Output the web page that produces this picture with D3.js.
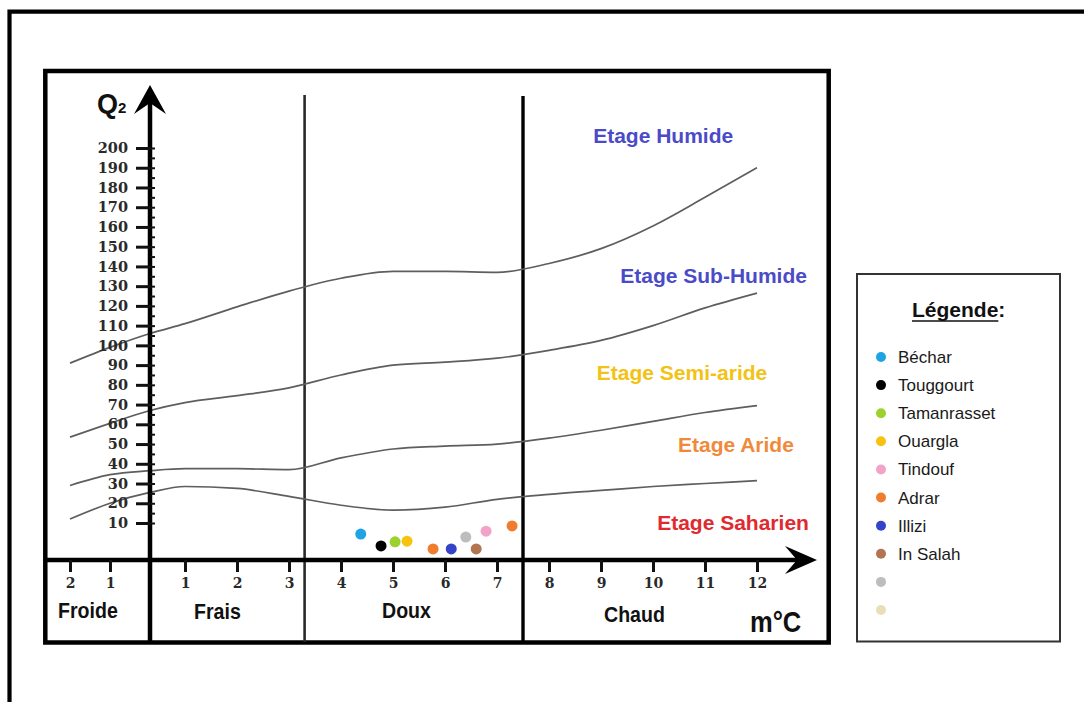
<!DOCTYPE html>
<html>
<head>
<meta charset="utf-8">
<script src="https://cdn.jsdelivr.net/npm/d3@7"></script>
<style>
  html, body { margin: 0; padding: 0; background: #fff; }
  svg { display: block; }
</style>
</head>
<body>
<svg id="chart" width="1084" height="702"></svg>
<script>
// Emberger climagram: Q2 pluviothermic quotient against m (°C, mean minimum of the coldest month)

const mTicks = [-2, -1, 1, 2, 3, 4, 5, 6, 7, 8, 9, 10, 11, 12];
const q2Ticks = [10, 20, 30, 40, 50, 60, 70, 80, 90, 100, 110, 120, 130, 140, 150, 160, 170, 180, 190, 200];
const q2MinorTicks = d3.range(10, 201, 5);

// limits between bioclimatic stages, sampled at each m value
const curveM = [-2, -1, 0, 1, 2, 3, 4, 5, 6, 7, 8, 9, 10, 11, 12];
const limitHumide = [91, 99, 106, 111, 119.5, 127.5, 134, 137.5, 137.5, 137, 141.5, 149, 160.5, 175, 190];
const limitSubHumide = [53.5, 60.5, 67, 71, 74.5, 78.5, 85, 90, 91.5, 93.5, 97.5, 102.5, 110, 119, 126.5];
const limitSemiAride = [29, 34.5, 36.5, 37.5, 37.5, 37, 43, 47.5, 49, 50, 53, 57, 61.5, 66, 69.5];
const limitAride = [12, 20, 25.5, 28.5, 27.5, 23.5, 19, 16.5, 18, 22, 24.5, 26.5, 28.5, 30, 31.5];

const etageNames = ["Etage Humide", "Etage Sub-Humide", "Etage Semi-aride", "Etage Aride", "Etage Saharien"];
const etageColors = ["#4b4bc8", "#4b4bc8", "#f2c214", "#f08a3a", "#e02a30"];
const etageAnchorM = [8.85, 9.37, 8.92, 10.48, 10.08];
const etageAnchorQ2 = [202.5, 131.6, 82.5, 46, 8.1];

// winter thermal variants, separated at m = 0, 3.3 and 7.5
const variantNames = ["Froide", "Frais", "Doux", "Chaud"];
const variantBounds = [0, 3.3, 7.5];

// stations
const legendNames = ["Béchar", "Touggourt", "Tamanrasset", "Ouargla", "Tindouf", "Adrar", "Illizi", "In Salah", "", ""];
const legendColors = ["#1ea3e4", "#000000", "#9bd22e", "#f7c210", "#f2a4c8", "#f07d2e", "#3443c8", "#b27552", "#bdbdbd", "#e8dfb8"];
const stationM = [4.38, 4.77, 5.04, 5.27, 6.79, 5.77, 6.12, 6.60, 6.40, 7.29];
const stationQ2 = [7.0, 3.8, 4.9, 5.1, 7.8, 3.0, 3.0, 3.0, 6.2, 9.2];
const stationColor = [0, 1, 2, 3, 4, 5, 6, 7, 8, 5];

const svg = d3.select("#chart");
const SANS = "'Liberation Sans', Arial, sans-serif";
const SERIF = "'DejaVu Serif', serif";

// scales (the drawing is not uniform: cold side and low Q2 range are stretched)
const x = d3.scaleLinear().domain([-2, 0, 1, 12]).range([70, 150, 185, 757]);
const y = d3.scaleLinear().domain([0, 10, 200]).range([560, 523, 148]);

// page frame (cropped on the right and bottom)
svg.append("path")
  .attr("d", "M9.5,702 V11.7 H1090")
  .attr("fill", "none").attr("stroke", "#000").attr("stroke-width", 4.2);

// chart frame
svg.append("rect")
  .attr("x", 45.3).attr("y", 71).attr("width", 783.4).attr("height", 571.5)
  .attr("fill", "none").attr("stroke", "#000").attr("stroke-width", 4.5);

// thermal variant dividers
svg.append("line")
  .attr("x1", x(variantBounds[1])).attr("x2", x(variantBounds[1]))
  .attr("y1", 95).attr("y2", 642)
  .attr("stroke", "#2a2a2a").attr("stroke-width", 2.6);
svg.append("line")
  .attr("x1", x(variantBounds[2])).attr("x2", x(variantBounds[2]))
  .attr("y1", 96).attr("y2", 642)
  .attr("stroke", "#000").attr("stroke-width", 3.4);

// stage limits
const line = d3.line()
  .x((d, i) => x(curveM[i]))
  .y(d => y(d))
  .curve(d3.curveMonotoneX);
[limitHumide, limitSubHumide, limitSemiAride, limitAride].forEach(vals => {
  svg.append("path")
    .attr("d", line(vals))
    .attr("fill", "none")
    .attr("stroke", "#5e5e5e")
    .attr("stroke-width", 1.7);
});

// y axis
svg.append("line")
  .attr("x1", x(0)).attr("x2", x(0)).attr("y1", 100).attr("y2", 642)
  .attr("stroke", "#000").attr("stroke-width", 4.5);
svg.append("path")
  .attr("d", `M${x(0)},85 L${x(0) - 16},114 L${x(0)},103 L${x(0) + 16},114 Z`)
  .attr("fill", "#000");

const yAxis = svg.append("g")
  .attr("transform", `translate(${x(0)},0)`)
  .call(d3.axisLeft(y).tickValues(q2Ticks).tickSize(14).tickPadding(8));
yAxis.select(".domain").remove();
yAxis.selectAll(".tick line").attr("stroke", "#111").attr("stroke-width", 3);
yAxis.selectAll(".tick text")
  .attr("font-family", SERIF).attr("font-weight", "bold").attr("font-size", 14.5)
  .attr("fill", "#2a2a2a");

const yMinor = svg.append("g")
  .attr("transform", `translate(${x(0)},0)`)
  .call(d3.axisRight(y).tickValues(q2MinorTicks).tickSize(5).tickFormat(""));
yMinor.select(".domain").remove();
yMinor.selectAll(".tick line").attr("stroke", "#111").attr("stroke-width", 2);

// Q2 title
const q2Label = svg.append("text")
  .attr("x", 97).attr("y", 113)
  .attr("font-family", SANS).attr("font-weight", "bold").attr("fill", "#111");
q2Label.append("tspan").attr("font-size", 27).text("Q");
q2Label.append("tspan").attr("font-size", 15).text("2");

// x axis
svg.append("line")
  .attr("x1", 47).attr("x2", 800).attr("y1", 560).attr("y2", 560)
  .attr("stroke", "#000").attr("stroke-width", 4.5);
svg.append("path")
  .attr("d", "M817,560 L785,546 L797,560 L785,574 Z")
  .attr("fill", "#000");

const xAxis = svg.append("g")
  .attr("transform", "translate(0,560)")
  .call(d3.axisBottom(x).tickValues(mTicks).tickSize(12).tickPadding(6).tickFormat(d => Math.abs(d)));
xAxis.select(".domain").remove();
xAxis.selectAll(".tick line").attr("stroke", "#111").attr("stroke-width", 3);
xAxis.selectAll(".tick text")
  .attr("font-family", SERIF).attr("font-weight", "bold").attr("font-size", 14)
  .attr("fill", "#2a2a2a");

// thermal variant names and unit
const variantX = [58, 194, 382, 604];
const variantY = [618, 619, 618, 622];
variantNames.forEach((name, i) => {
  svg.append("text")
    .attr("transform", `translate(${variantX[i]},${variantY[i]}) scale(0.89,1)`)
    .attr("font-family", SANS).attr("font-weight", "bold").attr("font-size", 22)
    .attr("fill", "#111")
    .text(name);
});
svg.append("text")
  .attr("transform", "translate(750,632) scale(0.88,1)")
  .attr("font-family", SANS).attr("font-weight", "bold").attr("font-size", 29)
  .attr("fill", "#111")
  .text("m°C");

// stage names
etageNames.forEach((name, i) => {
  svg.append("text")
    .attr("x", x(etageAnchorM[i])).attr("y", y(etageAnchorQ2[i]))
    .attr("font-family", SANS).attr("font-weight", "bold").attr("font-size", 21)
    .attr("fill", etageColors[i])
    .text(name);
});

// stations
svg.append("g").selectAll("circle")
  .data(stationM)
  .join("circle")
  .attr("cx", d => x(d))
  .attr("cy", (d, i) => y(stationQ2[i]))
  .attr("r", 5.5)
  .attr("fill", (d, i) => legendColors[stationColor[i]]);

// legend
const legend = svg.append("g");
legend.append("rect")
  .attr("x", 857).attr("y", 274).attr("width", 203).attr("height", 367.5)
  .attr("fill", "#fff").attr("stroke", "#333").attr("stroke-width", 2);

const title = legend.append("text")
  .attr("x", 912).attr("y", 317)
  .attr("font-family", SANS).attr("font-weight", "bold").attr("font-size", 21)
  .attr("fill", "#111");
const titleWord = title.append("tspan").text("Légende");
title.append("tspan").text(":");
const wordLen = titleWord.node().getComputedTextLength();
legend.append("line")
  .attr("x1", 912).attr("x2", 912 + wordLen)
  .attr("y1", 321).attr("y2", 321)
  .attr("stroke", "#111").attr("stroke-width", 1.6);

const rowY = d3.scaleLinear().domain([0, legendNames.length - 1]).range([357, 610]);
const rows = legend.selectAll("g.row")
  .data(legendNames)
  .join("g")
  .attr("class", "row")
  .attr("transform", (d, i) => `translate(0,${rowY(i)})`);
rows.append("circle")
  .attr("cx", 881).attr("cy", 0).attr("r", 5)
  .attr("fill", (d, i) => legendColors[i]);
rows.append("text")
  .attr("x", 898).attr("y", 6)
  .attr("font-family", SANS).attr("font-size", 17)
  .attr("fill", "#1a1a1a")
  .text(d => d);
</script>
</body>
</html>
